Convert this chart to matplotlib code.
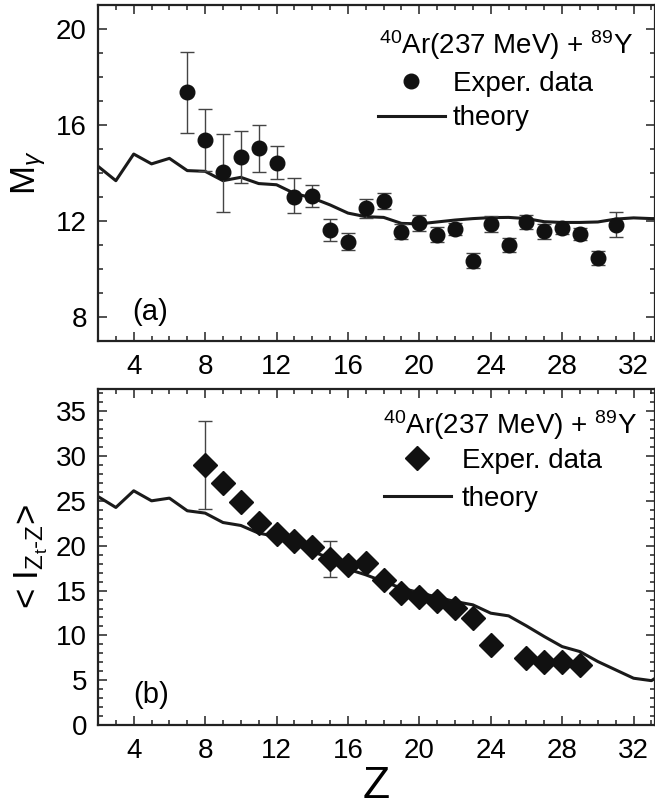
import matplotlib
matplotlib.use("Agg")
import matplotlib.pyplot as plt
from matplotlib.ticker import MultipleLocator

plt.rcParams['font.family'] = ['Liberation Sans', 'DejaVu Sans']
plt.rcParams['mathtext.fontset'] = 'custom'
plt.rcParams['mathtext.rm'] = 'Liberation Sans'
plt.rcParams['mathtext.it'] = 'Liberation Sans:italic'
plt.rcParams['mathtext.bf'] = 'Liberation Sans:bold'

# ---- panel (a): gamma multiplicity ----
z_exp_a = [7, 8, 9, 10, 11, 12, 13, 14, 15, 16, 17, 18, 19, 20, 21, 22, 23, 24, 25, 26, 27, 28, 29, 30, 31]
m_exp = [17.36, 15.38, 14.03, 14.68, 15.06, 14.42, 13.01, 13.04, 11.64, 11.11, 12.53, 12.83, 11.56, 11.92,
         11.43, 11.67, 10.35, 11.89, 11.0, 11.96, 11.57, 11.69, 11.46, 10.46, 11.85]
m_err_up = [1.70, 1.29, 1.60, 1.08, 0.94, 0.69, 0.77, 0.47, 0.44, 0.38, 0.37, 0.32, 0.30, 0.33,
            0.30, 0.25, 0.30, 0.33, 0.30, 0.30, 0.30, 0.22, 0.25, 0.30, 0.51]
m_err_dn = [1.69, 1.28, 1.67, 1.11, 1.00, 0.67, 0.69, 0.44, 0.46, 0.32, 0.42, 0.33, 0.30, 0.33,
            0.30, 0.25, 0.30, 0.33, 0.30, 0.30, 0.30, 0.22, 0.25, 0.30, 0.51]
z_th = [2, 3, 4, 5, 6, 7, 8, 9, 10, 11, 12, 13, 14, 15, 16, 17, 18, 19, 20, 21, 22, 23, 24, 25, 26, 27,
        28, 29, 30, 31, 32, 33, 34]
m_th = [14.28, 13.68, 14.79, 14.38, 14.61, 14.10, 14.07, 13.68, 13.82, 13.56, 13.51, 13.15, 12.96, 12.67,
        12.33, 12.18, 12.15, 11.90, 11.88, 11.96, 12.04, 12.10, 12.14, 12.15, 12.10, 11.97, 11.94, 11.94,
        11.96, 12.08, 12.13, 12.10, 12.10]

# ---- panel (b): mean spin ----
z_exp_b = [8, 9, 10, 11, 12, 13, 14, 15, 16, 17, 18, 19, 20, 21, 22, 23, 24, 26, 27, 28, 29]
i_exp = [29.0, 27.0, 24.87, 22.5, 21.34, 20.48, 19.92, 18.5, 17.87, 18.06, 16.2, 14.78, 14.23, 13.85,
         13.03, 11.92, 8.94, 7.45, 7.08, 7.0, 6.7]
z_err_b = [8, 15]
i_err_val = [29.0, 18.5]
i_err_up = [4.96, 1.98]
i_err_dn = [4.84, 2.0]
i_th = [25.5, 24.28, 26.14, 25.02, 25.32, 23.91, 23.65, 22.6, 22.27, 21.41, 21.04, 20.3, 19.36, 18.62,
        17.39, 16.76, 16.01, 15.27, 14.78, 14.26, 13.78, 13.41, 12.48, 12.18, 11.06, 9.87, 8.75, 8.19,
        7.08, 6.15, 5.22, 4.95, 6.2]

title_txt = r'$^{40}$Ar(237 MeV) + $^{89}$Y'

W, H = 655, 807
fig = plt.figure(figsize=(W / 100, H / 100), dpi=100)

def px_axes(left, top, right, bottom):
    return fig.add_axes([left / W, 1 - bottom / H, (right - left) / W, (bottom - top) / H])

axa = px_axes(98, 5, 655, 341)
axb = px_axes(98, 389, 655, 725)

FS = 20
for ax in (axa, axb):
    ax.set_xlim(2, 33.2)
    ax.xaxis.set_major_locator(MultipleLocator(4))
    ax.xaxis.set_minor_locator(MultipleLocator(1))
    ax.yaxis.set_minor_locator(MultipleLocator(1))
    ax.tick_params(which='both', direction='in', top=True, right=True, width=1.1, color='#222222')
    ax.tick_params(which='major', length=6.5, labelsize=FS, pad=8)
    ax.tick_params(axis='x', which='major', pad=9)
    ax.tick_params(which='minor', length=3.5)
    for s in ax.spines.values():
        s.set_linewidth(1.6)
        s.set_color('#222222')

# panel (a)
axa.set_ylim(7, 21)
axa.yaxis.set_major_locator(MultipleLocator(4))
axa.plot(z_th, m_th, color='#1a1a1a', lw=2.2, label='theory', zorder=2)
axa.errorbar(z_exp_a, m_exp, yerr=[m_err_dn, m_err_up], fmt='none', ecolor='#444444',
             elinewidth=1.0, capsize=5, capthick=1.0, zorder=3)
axa.plot(z_exp_a, m_exp, 'o', color='#111111', ms=10.5, ls='none', label='Exper. data', zorder=4)
axa.set_ylabel(r'M$_\gamma$', fontsize=25, labelpad=6)
axa.text(4.9, 8.22, '(a)', fontsize=FS + 1, ha='center', va='center')
axa.text((633 - 98) / 557, 1 - (45 - 5) / 336, title_txt, transform=axa.transAxes,
         fontsize=FS, ha='right', va='center')
h, l = axa.get_legend_handles_labels()
axa.legend([h[1], h[0]], [l[1], l[0]], loc='upper left',
           bbox_to_anchor=((378 - 98) / 557, 1 - (71 - 5) / 336), frameon=False, fontsize=FS,
           handlelength=2.4, handletextpad=0.3, borderpad=0, borderaxespad=0, labelspacing=0.3)

# panel (b)
axb.set_ylim(0, 37.5)
axb.yaxis.set_major_locator(MultipleLocator(5))
axb.plot(z_th, i_th, color='#1a1a1a', lw=2.2, label='theory', zorder=2)
axb.errorbar(z_err_b, i_err_val, yerr=[i_err_dn, i_err_up], fmt='none', ecolor='#444444',
             elinewidth=1.0, capsize=5, capthick=1.0, zorder=3)
axb.plot(z_exp_b, i_exp, 'D', color='#111111', ms=12, ls='none', label='Exper. data', zorder=4)
axb.set_ylabel(r'< I$_{\mathrm{Z_t\text{-}Z}}$>', fontsize=25, labelpad=4)
axb.set_xlabel('Z', fontsize=32, labelpad=2)
axb.text(5.0, 3.35, '(b)', fontsize=FS + 1, ha='center', va='center')
axb.text((637 - 98) / 557, 1 - (425 - 389) / 336, title_txt, transform=axb.transAxes,
         fontsize=FS, ha='right', va='center')
h, l = axb.get_legend_handles_labels()
axb.legend([h[1], h[0]], [l[1], l[0]], loc='upper left',
           bbox_to_anchor=((384 - 98) / 557, 1 - (448 - 389) / 336), frameon=False, fontsize=FS,
           handlelength=2.4, handletextpad=0.4, borderpad=0, borderaxespad=0, labelspacing=0.42)

fig.savefig('out.png', dpi=100)
